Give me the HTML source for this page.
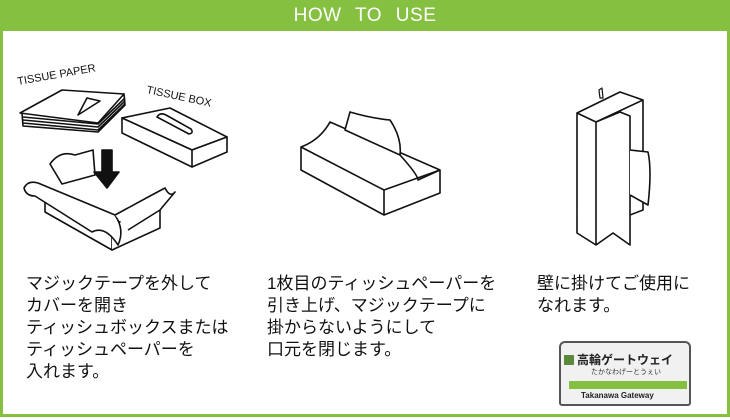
<!DOCTYPE html>
<html><head><meta charset="utf-8"><style>
body{margin:0;width:730px;height:420px;overflow:hidden;background:#fff;font-family:"Liberation Sans","Noto Sans CJK JP",sans-serif}
#f{position:absolute;left:0;top:0;width:724px;height:414px;border:3px solid #86c041;border-top:none}
#h{position:absolute;left:0;top:0;width:730px;height:31px;background:#86c041;color:#fff;font-size:19px;line-height:31px;text-align:center;word-spacing:8px;letter-spacing:0.5px}
.t{position:absolute;top:273px;font-size:17px;line-height:22px;color:#111;white-space:nowrap}
svg{position:absolute;left:0;top:0}
</style></head><body>
<div id="f"></div>
<div id="h">HOW TO USE</div>
<svg width="730" height="420" fill="#fff" stroke="#111" stroke-width="1.6" stroke-linejoin="round">
<text x="18" y="85" font-family="Liberation Sans" font-size="11" fill="#111" stroke="none" transform="rotate(-10 18 85)">TISSUE PAPER</text>
<text x="146" y="93" font-family="Liberation Sans" font-size="11" fill="#111" stroke="none" transform="rotate(12 146 93)">TISSUE BOX</text>
<!-- stack -->
<path d="M22 113 L23 126 L98 132 L125 105 L124 94 Z"/>
<path d="M23 117 L98 124 L125 98 M23 120 L98 127 L125 101 M23 123 L98 130 L125 104" fill="none"/>
<path d="M20 113 L62 90 L124 94 L98 123 Z"/>
<path d="M78 115 L87 98 L100 101 Z" />
<!-- tissue box -->
<path d="M122 118 L170 108 L227 137 L192 150 Z"/>
<path d="M122 118 L122 133 L192 167 L192 150 Z M192 150 L227 137 L227 152 L192 167"/>
<path d="M157 117 Q160 112 166 115 L191 129 Q194 133 189 134 Z" fill="none"/>
<!-- open box -->
<path d="M45 186 L45 212 L112 250 L112 225 Z"/>
<path d="M112 225 L160 205 L160 228 L112 250"/>
<path d="M50 164 Q60 150 75 155 L93 150 L95 175 L62 184 Z"/>
<path d="M24 188 Q28 180 38 183 L115 215 Q125 230 118 245 Q105 225 92 232 L35 196 Q26 196 24 188 Z"/>
<path d="M115 215 L150 196 L165 188 Q170 198 175 192 L160 210 L128 230"/>
<path d="M102 150 L112 150 L112 172 L119 172 L107 188 L94 172 L102 172 Z" fill="#111"/>
<!-- middle -->
<path d="M301 147 Q320 140 330 122 L440 170 L440 193 L384 215 L301 170 Z"/>
<path d="M384 215 L384 190 L440 170 M384 190 L301 147" fill="none"/>
<path d="M350 112 Q370 118 390 120 Q402 138 400 155 L345 130 Z"/>
<path d="M400 155 Q418 175 418 180 L440 170" fill="none"/>
<!-- right -->
<path d="M599 90 L600 98 L603 98 L602 88 Z" stroke-width="1.2"/>
<path d="M577 113 L620 92 L643 100 L643 210 L630 215 L630 245 L613 233 L596 245 L577 233 Z"/>
<path d="M577 113 L596 122 L643 100 M596 122 L596 245 M596 122 L620 112 L630 116 L630 215" fill="none"/>
<path d="M630 150 L648 152 Q652 170 648 205 L630 195"/>
</svg>
<div class="t" style="left:26px">マジックテープを外して<br>カバーを開き<br>ティッシュボックスまたは<br>ティッシュペーパーを<br>入れます。</div>
<div class="t" style="left:267px">1枚目のティッシュペーパーを<br>引き上げ、マジックテープに<br>掛からないようにして<br>口元を閉じます。</div>
<div class="t" style="left:537px">壁に掛けてご使用に<br>なれます。</div>
<div style="position:absolute;left:559px;top:341px;width:128px;height:61px;background:#f1f1f1;border:2px solid #555;border-radius:6px 6px 3px 3px">
 <div style="position:absolute;left:3px;top:12px;width:10px;height:10px;background:#5a8a3a"></div>
 <div style="position:absolute;left:16px;top:8px;font-size:12px;font-weight:bold;color:#222">高輪ゲートウェイ</div>
 <div style="position:absolute;left:30px;top:24px;font-size:7px;color:#333">たかなわげーとうぇい</div>
 <div style="position:absolute;left:8px;top:38px;width:118px;height:8px;background:#86c041"></div>
 <div style="position:absolute;left:20px;top:48px;font-size:8px;font-weight:bold;color:#222">Takanawa Gateway</div>
</div>
</body></html>
